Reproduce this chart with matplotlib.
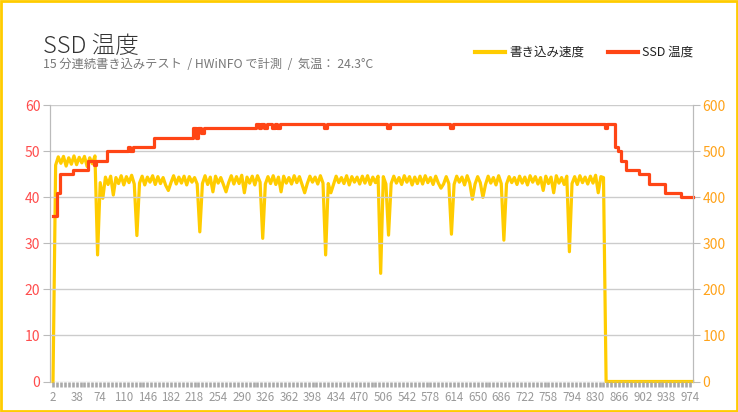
import numpy as np
import matplotlib.pyplot as plt
from matplotlib.lines import Line2D
from matplotlib.patches import Rectangle

plt.rcParams['font.family'] = ['Noto Sans CJK JP', 'DejaVu Sans']

# 経過時間 (s) : 4 秒ごとのサンプル
elapsed = np.arange(2, 979, 4)

# 書き込み速度 (MB/s)
write_speed = [
    0, 470, 488, 474, 489, 468, 486, 472, 490, 471,
    487, 475, 489, 467, 486, 473, 490, 275, 432, 398,
    444, 428, 446, 405, 443, 430, 447, 427, 445, 432,
    448, 429, 317, 431, 446, 427, 444, 433, 447, 428,
    445, 430, 443, 426, 415, 432, 447, 429, 444, 431,
    446, 427, 445, 433, 443, 429, 325, 430, 447, 428,
    444, 412, 446, 431, 443, 428, 412, 432, 447, 429,
    445, 430, 448, 410, 444, 431, 446, 427, 447, 433,
    311, 429, 445, 430, 447, 428, 444, 412, 446, 431,
    443, 429, 447, 432, 445, 428, 410, 430, 446, 433,
    444, 429, 447, 431, 275, 430, 410, 428, 446, 432,
    443, 430, 447, 427, 445, 433, 444, 429, 446, 431,
    447, 428, 444, 432, 446, 235, 445, 429, 318, 430,
    446, 431, 443, 428, 447, 433, 445, 427, 444, 430,
    446, 429, 447, 432, 443, 428, 446, 431, 420, 429,
    445, 430, 320, 428, 446, 433, 444, 427, 447, 431,
    396, 429, 445, 432, 400, 428, 446, 431, 443, 427,
    447, 430, 307, 429, 445, 432, 443, 428, 446, 431,
    444, 427, 447, 433, 445, 429, 443, 415, 446, 430,
    444, 410, 447, 431, 443, 428, 446, 282, 430, 445,
    428, 447, 432, 444, 429, 446, 431, 448, 410, 445,
    443,
] + [0] * 34

# SSD 温度 (°C)
ssd_temp = (
    [36, 36, 41, 45, 45, 45, 45, 45, 46, 46,
     46, 46, 46, 46, 48, 48, 47, 48, 48, 48,
     48, 50, 50, 50, 50, 50, 50, 50, 50, 51,
     50, 51, 51, 51, 51, 51, 51, 51, 51, 53]
    + [53] * 14
    + [55, 53, 55, 54, 55, 55]
    + [55] * 18
    + [56, 55, 56, 55, 56, 56, 55, 56, 55, 56]
    + [56] * 16
    + [55]
    + [56] * 23
    + [55]
    + [56] * 23
    + [55]
    + [56] * 58
    + [55, 56, 56, 56, 51, 50, 48, 48, 46,
       46, 46, 46, 46, 45, 45, 45, 45, 43, 43,
       43, 43, 43, 43, 41, 41, 41, 41, 41, 41,
       40, 40, 40, 40, 40]
)

x_labels = list(range(2, 975, 36))

title = 'SSD 温度'
subtitle = '15 分連続書き込みテスト  / HWiNFO で計測  /  気温： 24.3°C'
legend_names = ['書き込み速度', 'SSD 温度']

yellow = '#ffcc00'
red = '#ff4515'

fig = plt.figure(figsize=(7.38, 4.12), dpi=100)
ax = fig.add_axes([50 / 738, 30.5 / 412, 643 / 738, 276.2 / 412])
ax2 = ax.twinx()

ax2.plot(elapsed, write_speed, color=yellow, lw=2.3, clip_on=False)
ax.plot(elapsed, ssd_temp, color=red, lw=2.3, clip_on=False, drawstyle='steps-mid')

ax.set_zorder(ax2.get_zorder() + 1)
ax.patch.set_visible(False)

ax.set_xlim(-2.6, 978.6)
ax.set_ylim(0, 60)
ax2.set_ylim(0, 600)
ax.set_yticks(range(0, 61, 10))
ax2.set_yticks(range(0, 601, 100))
ax.set_xticks(x_labels)
ax.set_xticklabels([str(v) for v in x_labels])
ax.set_xticks(np.arange(2, 979, 6), minor=True)

ax.grid(axis='y', color='#cccccc', lw=1)
ax.set_axisbelow(True)

for a in (ax, ax2):
    for s in ('top', 'bottom'):
        a.spines[s].set_visible(False)
    a.spines['left'].set_color('#bbbbbb')
    a.spines['right'].set_color('#bbbbbb')

ax.tick_params(axis='y', length=5, color='#bbbbbb', labelcolor='#ff4d4d', labelsize=10, pad=2)
ax2.tick_params(axis='y', length=5, color='#bbbbbb', labelcolor='#ffa31a', labelsize=10, pad=2)
ax.tick_params(axis='x', which='both', length=3.6, width=1.9, color='#aaaaaa',
               labelcolor='#999999', labelsize=8.3, pad=3)

fig.text(43 / 738, 1 - 53 / 412, title, fontsize=17, color='#333333', weight='light')
fig.text(43 / 738, 1 - 68 / 412, subtitle, fontsize=8.8, color='#777777')

for (x0, x1), c, name in zip([(475, 505), (608, 638)], [yellow, red], legend_names):
    fig.add_artist(Line2D([x0 / 738, x1 / 738], [1 - 51.7 / 412] * 2, color=c, lw=3,
                          transform=fig.transFigure))
    fig.text((x1 + 4) / 738, 1 - 51.7 / 412, name, fontsize=9, color='#222222', va='center')

fig.add_artist(Rectangle((0.001, 0.002), 0.997, 0.996, transform=fig.transFigure,
                         fill=False, edgecolor='#ffcc00', lw=2))

fig.savefig('out.png', dpi=100)
